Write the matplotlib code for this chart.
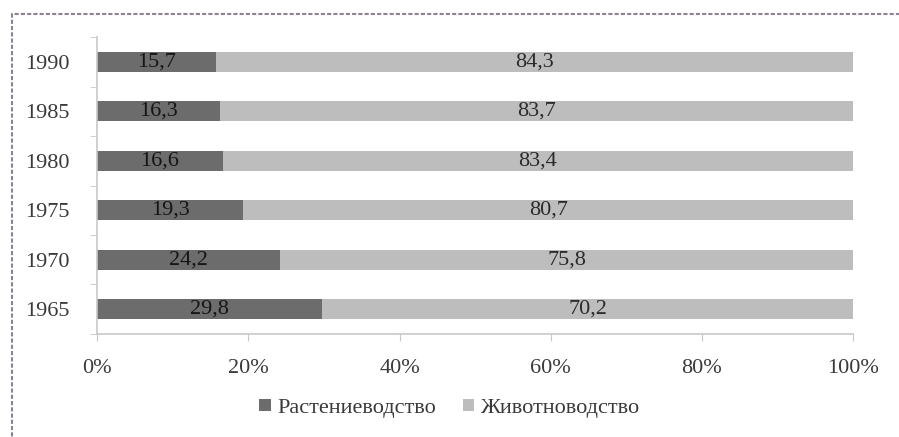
import matplotlib.pyplot as plt
from matplotlib.patches import Rectangle
import numpy as np

years = ["1965", "1970", "1975", "1980", "1985", "1990"]
crops = [29.8, 24.2, 19.3, 16.6, 16.3, 15.7]
livestock = [70.2, 75.8, 80.7, 83.4, 83.7, 84.3]
series_names = ["Растениеводство", "Животноводство"]
x_ticks = [0, 20, 40, 60, 80, 100]


def fmt(v):
    return f"{v:.1f}".replace(".", ",")


def main():
    plt.rcParams["font.family"] = ["Liberation Serif", "DejaVu Serif"]
    fig = plt.figure(figsize=(8.99, 4.37), dpi=100)
    ax = fig.add_axes([0.108, 0.236, 0.841, 0.679])

    y = np.arange(len(years))
    total = np.array(crops) + np.array(livestock)
    c = np.array(crops) / total * 100
    l = np.array(livestock) / total * 100

    b1 = ax.barh(y, c, height=0.4, color="#6c6c6c", label=series_names[0])
    b2 = ax.barh(y, l, left=c, height=0.4, color="#bdbdbd", label=series_names[1])

    for i in range(len(years)):
        ax.text(c[i] / 2, y[i], fmt(crops[i]), ha="center", va="center",
                fontsize=16, color="#151515")
        ax.text(c[i] + l[i] / 2, y[i], fmt(livestock[i]), ha="center", va="center",
                fontsize=16, color="#2a2a2a")

    ax.set_xlim(0, 100)
    ax.set_ylim(-0.5, len(years) - 0.5)
    ax.set_xticks(x_ticks)
    ax.set_xticklabels([f"{t}%" for t in x_ticks], fontsize=16, color="#3a3a3a")
    ax.set_yticks(y)
    ax.set_yticklabels(years, fontsize=16, color="#3a3a3a")
    ax.set_yticks(np.arange(len(years) + 1) - 0.5, minor=True)
    ax.tick_params(axis="y", which="major", length=0, pad=20)
    ax.tick_params(axis="y", which="minor", length=5, color="#c8c8c8")
    ax.tick_params(axis="x", length=5, color="#c8c8c8", pad=13)

    for s in ["top", "right"]:
        ax.spines[s].set_visible(False)
    for s in ["left", "bottom"]:
        ax.spines[s].set_color("#c8c8c8")
        ax.spines[s].set_linewidth(1.2)

    fig.legend(handles=[b1, b2], loc="center", bbox_to_anchor=(0.5, 0.066),
               ncol=2, frameon=False, fontsize=16, handlelength=0.5,
               handleheight=0.5, handletextpad=0.3, columnspacing=1.2,
               labelcolor="#3a3a3a")

    # dotted outer frame, clipped on right and bottom like the source
    frame = Rectangle((12 / 899, -0.2), 1.2, 1 - 14 / 437 + 0.2,
                      transform=fig.transFigure, fill=False,
                      edgecolor="#8c8294", linewidth=1.5, linestyle=(0, (2, 1)))
    fig.patches.append(frame)

    fig.savefig("out.png", dpi=100)


if __name__ == "__main__":
    main()
